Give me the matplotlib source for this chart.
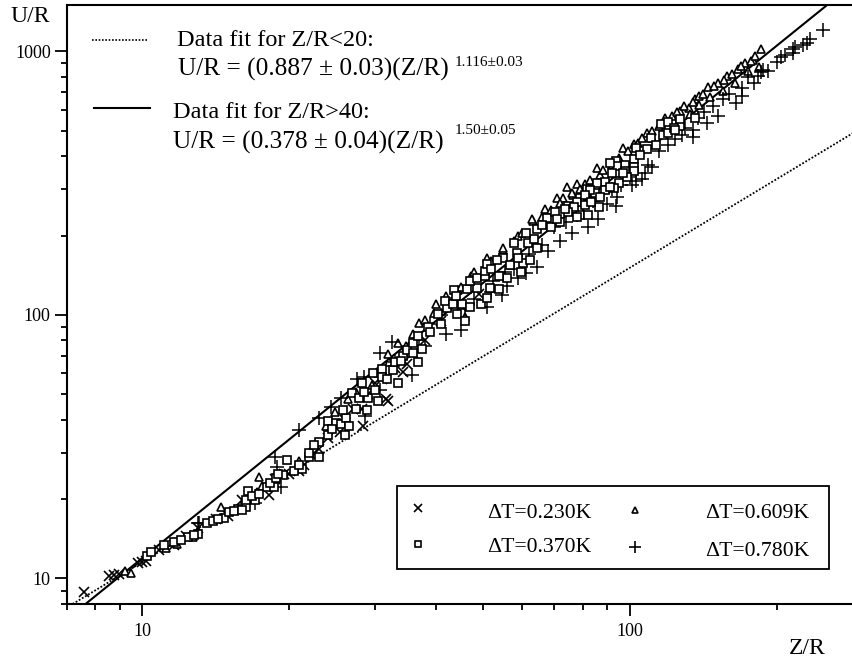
import matplotlib
matplotlib.use("Agg")
import matplotlib.pyplot as plt
from matplotlib.lines import Line2D
from matplotlib.patches import Rectangle

plt.rcParams['font.family'] = ['Liberation Serif', 'DejaVu Serif']

W, H = 853, 662

# Fit lines, end points
solid_x = [7.65, 254]
solid_y = [8, 1500]
dotted_x = [7.2, 287]
dotted_y = [8, 490]

# dT = 0.230K
cross_x = [7.6, 8.55, 8.75, 8.95, 9.8, 10, 10.2, 10.8, 11.6, 13, 15, 16, 18.2, 18.7, 19.5, 21, 22.5,
           27, 28.4, 30, 31.6, 34.2, 35, 28.2, 25.5, 20, 21.5, 23, 24, 26, 29, 31, 33, 36, 38, 41, 45, 49,
           31.9, 12.3, 14.2]
cross_y = [8.9, 10.2, 10.35, 10.4, 11.4, 11.5, 11.6, 12.8, 13.4, 15.6, 17.3, 19.8, 20.8, 23.8, 25, 25.5, 30,
           43.8, 38, 55, 47.8, 61, 65, 44, 36, 25, 27, 31, 34, 40, 50, 57, 63, 72, 80, 95, 108, 120,
           47.2, 14.5, 16.8]

# dT = 0.370K
square_x = [10.25, 10.4, 11.1, 12.4, 13, 13.6, 14, 14.7, 15.1, 15.7, 16.3, 16.3, 17, 16.5, 18, 18.6,
            19.8, 19.4, 21.3, 22, 23, 24, 25, 25.6, 26.2, 26.6, 25.8, 26.9, 27.8, 29, 28.9, 28.2, 29.8,
            31, 31, 31.7, 33.4, 32.7, 34.2, 35, 35.9, 35.9, 36.7, 36.8, 38.5,
            40.4, 42.1, 41.7, 43.5, 43.3, 45.3, 44.2, 47, 46.3, 48.5, 49.5, 50.9, 51.6, 53.8, 47, 48.5,
            50.4, 50.4, 55.9, 54.9, 53.3, 50.9, 56.7, 59.7, 58.6, 60.4, 62.4, 57.8, 61.7, 63.5, 64.6,
            61.2, 64.6, 67.7, 70.3, 74.6, 76.4, 79, 82, 81.6, 85, 86.5, 89, 85.5, 93.6, 93.6, 98, 102,
            102, 95.2, 93, 103, 110.6, 108.7, 79.2, 72, 78, 116, 120, 117, 120, 127, 123, 136, 127,
            94, 97.6, 91, 102, 98.6, 96.8, 92, 89, 84.7, 82.8, 81, 77, 74.6, 73.6, 78, 81, 83.4, 87, 91,
            11.6, 12, 12.8, 14.3, 15.4, 16, 16.8, 17.4, 18.3, 18.8, 19, 20.5, 21, 22, 22.5, 23, 24, 24.5,
            26, 27.5, 28.5, 30, 30.5, 33, 34, 37.5, 39, 41, 44, 46, 52, 54, 59, 66, 69, 71, 105, 113, 124]
square_y = [12.2, 12.6, 13.4, 14.4, 14.8, 16.3, 16.5, 17, 17.8, 18.3, 18.6, 19.9, 19.8, 21.4, 22.3, 22.3,
            28.2, 24.6, 26, 29, 33, 39.7, 39, 38.4, 40.5, 37.8, 43.4, 50.4, 48.2, 48.2, 43.4, 55, 60,
            62.5, 58, 57, 55, 62, 70, 73.5, 72, 78, 66, 83, 90,
            101, 106, 113, 124, 110, 110, 101, 107, 125, 126, 110, 116, 127, 125, 135, 138,
            140, 147, 138, 165, 161, 156, 155, 146, 172, 158, 161, 187, 188, 195, 179,
            205, 211, 234, 246, 260, 253, 240, 240, 300, 280, 256, 320, 318, 345, 385, 370, 390,
            365, 317, 302, 430, 470, 425, 277, 225, 268, 530, 540, 480, 490, 520, 512, 560, 555,
            369, 353, 378, 353, 333, 347, 345, 297, 289, 297, 284, 256, 246, 253, 236, 262, 268, 280, 305,
            13.8, 14, 14.6, 16.8, 18, 18.2, 20.5, 21, 23, 24, 25, 25.5, 27, 30, 32, 29, 35, 37,
            35, 44, 51, 52, 47, 66, 67, 74, 86, 92, 118, 95, 150, 140, 165, 220, 215, 232, 405, 440, 505]

# dT = 0.609K
tri_x = [9.2, 9.5, 11.2, 11.8, 12.7, 14.5, 17.2, 17.4, 17.6, 21, 23.8, 26.4, 29.6, 31.9, 32, 33.4,
         35.9, 37, 39.7, 44.4, 46, 47.3, 50.9, 54.9, 58.9, 63.2, 63, 67, 70.8, 73, 74.5, 76.4, 78, 81,
         85.5, 87, 97, 102, 108.7, 111, 111, 127, 132, 133, 136, 139, 139, 145, 146, 152, 155, 158,
         164, 167, 172, 175, 179, 184, 186,
         40, 42, 45, 48, 52, 55, 58, 60, 66, 69, 72, 76, 79, 83, 88, 92, 95, 99, 104, 106, 115, 118,
         122, 125, 129, 135, 141, 149, 156, 162, 169, 177, 181, 24.8, 27.5, 30.5, 34.8, 38]
tri_y = [10.7, 10.5, 13, 13.5, 14.4, 18.6, 21.2, 24.2, 22.4, 28, 38, 48, 54, 71, 66, 78,
         85, 93, 102, 124, 98, 141, 165, 176, 199, 228, 232, 252, 277, 277, 305, 285, 315, 315,
         360, 340, 430, 445, 490, 500, 470, 595, 610, 580, 660, 680, 625, 730, 670, 760, 710, 805,
         760, 860, 900, 840, 930, 870, 1020,
         110, 118, 128, 145, 160, 180, 190, 205, 235, 250, 265, 290, 300, 325, 355, 370, 395, 420, 450,
         470, 520, 560, 570, 590, 620, 640, 690, 740, 780, 820, 880, 920, 960, 43, 51, 60, 76, 96]

# dT = 0.780K
plus_x = [13, 13.1, 17, 18.7, 18.9, 19.3, 21, 23, 24.4, 25.6, 27.6, 28.5, 28.6, 30.7, 30.7, 32.5, 35.8,
          38, 42, 45, 50.9, 52.4, 54.6, 55.4, 56, 58.9, 61.3, 64.6, 68, 72, 76, 82, 86, 90, 93.6, 94,
          101, 103, 106, 107.4, 111, 128, 135, 135, 144, 152, 165, 170, 170, 180, 186, 192, 200, 204,
          208, 216, 216, 218, 227, 231, 234, 249,
          33, 35, 37, 39, 41, 43, 46, 48, 52, 58, 60, 62, 66, 70, 74, 78, 80, 84, 88, 92, 96, 100, 109,
          115, 120, 124, 130, 138, 142, 148, 155, 160, 175, 183, 188]
plus_y = [16.2, 16.2, 19.3, 28.8, 26.4, 22.2, 36.5, 40.5, 44.6, 48.6, 57, 58, 41.5, 72, 52, 78.6, 59,
          76, 85, 88, 107, 135, 119, 145, 129, 138, 144, 152, 175, 190, 205, 215, 232, 263, 260, 280,
          310, 323, 327, 345, 365, 480, 505, 475, 535, 570, 635, 725, 680, 760, 835, 845, 910, 950,
          970, 990, 1025, 1035, 1060, 1080, 1115, 1210,
          66, 72, 80, 92, 100, 110, 105, 115, 122, 150, 160, 170, 185, 215, 225, 240, 245, 270, 290, 300,
          310, 335, 370, 420, 440, 465, 510, 560, 590, 620, 660, 690, 800, 810, 850]

legend_labels = ['\u0394T=0.230K', '\u0394T=0.370K', '\u0394T=0.609K', '\u0394T=0.780K']


def fx(px):
    return px / W


def fy(py):
    return 1 - py / H


fig = plt.figure(figsize=(W / 100, H / 100), dpi=100)
ax = fig.add_axes([fx(66.7), fy(604), fx(853) - fx(66.7), fy(5) - fy(604)])
ax.set_xscale('log')
ax.set_yscale('log')
ax.set_xlim(7, 287)
ax.set_ylim(8, 1500)

ax.plot(dotted_x, dotted_y, color='k', lw=1.3, ls=(0, (1, 1)), zorder=1)
ax.plot(solid_x, solid_y, color='k', lw=1.5, zorder=1)

ax.plot(cross_x, cross_y, ls='none', marker='x', ms=6.5, mew=1.2, color='k', zorder=2)
ax.plot(tri_x, tri_y, ls='none', marker='^', ms=6.3, mew=1.2, mfc='white', color='k', zorder=2)
ax.plot(plus_x, plus_y, ls='none', marker='+', ms=9.5, mew=1.1, color='k', zorder=2)
ax.plot(square_x, square_y, ls='none', marker='s', ms=5.2, mew=1.2, mfc='white', color='k', zorder=3)

ax.spines['right'].set_visible(False)
for s in ['left', 'top', 'bottom']:
    ax.spines[s].set_linewidth(1.5)

ax.set_xticks([10, 100])
ax.set_xticklabels(['10', '100'])
ax.set_yticks([10, 100, 1000])
ax.set_yticklabels(['10', '100', '1000'])
ax.tick_params(which='major', length=8.5, width=1.3, labelsize=13, pad=3)
ax.tick_params(which='minor', length=4.3, width=1.3, labelleft=False, labelbottom=False)
ax.tick_params(axis='x', which='major', pad=5)

# axis names
fig.text(fx(10), fy(16), 'U/R', fontsize=17, va='center')
fig.text(fx(789), fy(648), 'Z/R', fontsize=17, va='center')

# fit key, top left
fig.add_artist(Line2D([fx(92), fx(147)], [fy(40), fy(40)], color='k', lw=1.2, ls=(0, (1, 1))))
fig.add_artist(Line2D([fx(94), fx(150)], [fy(108), fy(108)], color='k', lw=1.5))
fig.text(fx(177), fy(41), 'Data fit for Z/R<20:', fontsize=17.5, va='center')
fig.text(fx(178), fy(69), 'U/R = (0.887 \u00b1 0.03)(Z/R)', fontsize=18.3, va='center')
fig.text(fx(455), fy(62), '1.116\u00b10.03', fontsize=11, va='center')
fig.text(fx(173), fy(112), 'Data fit for Z/R>40:', fontsize=17.5, va='center')
fig.text(fx(173), fy(142), 'U/R = (0.378 \u00b1 0.04)(Z/R)', fontsize=18.3, va='center')
fig.text(fx(455), fy(130), '1.50\u00b10.05', fontsize=11, va='center')

# marker key, bottom right
fig.add_artist(Rectangle((fx(397), fy(569)), fx(829) - fx(397), fy(486) - fy(569), transform=fig.transFigure,
                         fc='white', ec='k', lw=1.3, zorder=4))
key_marks = [('x', 418, 508, 5.5), ('s', 418, 544, 4.3), ('^', 635, 510, 4.5), ('+', 635, 547, 8)]
for m, mx, my, ms in key_marks:
    fig.add_artist(Line2D([fx(mx)], [fy(my)], marker=m, ms=ms, mew=1.2, mfc='white', color='k', ls='none', zorder=5))
key_pos = [(487, 513), (487, 548), (705, 514), (705, 551)]
for lab, (tx, ty) in zip(legend_labels, key_pos):
    fig.text(fx(tx), fy(ty), lab, fontsize=15.7, va='center', zorder=6)

fig.savefig('out.png', dpi=100)
